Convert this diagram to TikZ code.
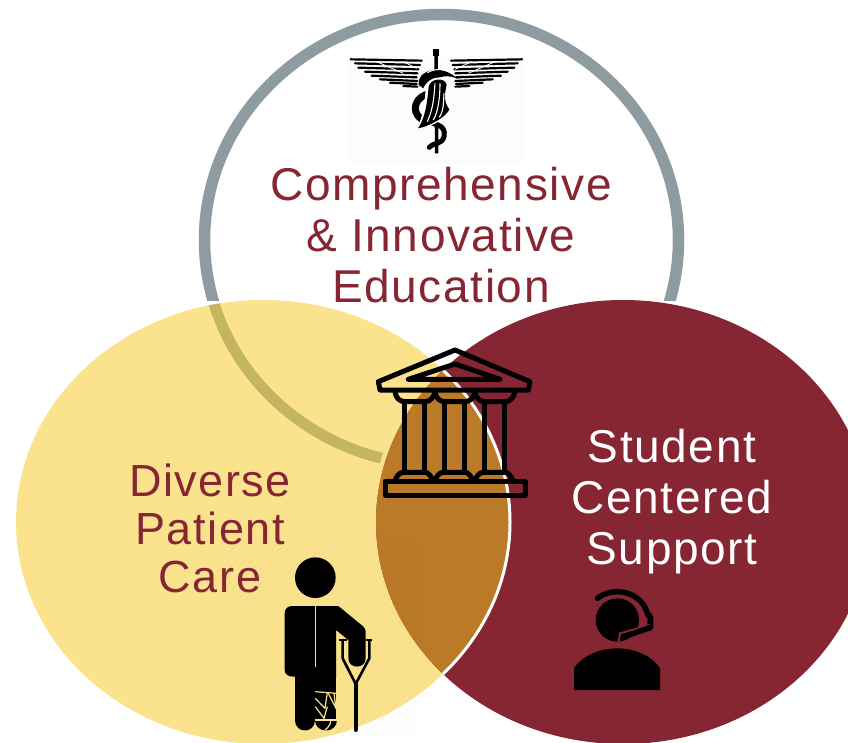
\documentclass[tikz,border=0pt]{standalone}
\usepackage{fontspec}
\setmainfont{Liberation Sans}
\newfontfamily\spacedfont[LetterSpace=3.5]{Liberation Sans}
\definecolor{fsumaroon}{HTML}{862633}
\definecolor{fsuyellow}{HTML}{FBE38E}
\definecolor{fsuorange}{HTML}{BB7A27}
\definecolor{fsugrey}{HTML}{8E9BA1}
\definecolor{fsuolive}{HTML}{C4B560}
\tikzset{
  bigtext/.style={align=center,inner sep=0pt,font=\fontsize{46}{51}\selectfont\spacedfont},
  midtext/.style={align=center,inner sep=0pt,font=\fontsize{45}{48}\selectfont\spacedfont},
  templeline/.style={draw=black,line width=5pt,line join=round,line cap=round},
  feather/.style={draw=black,line width=2.2pt,line cap=round}
}
\newcommand{\topring}{(441.5,240) ellipse [x radius=237,y radius=225.5]}
\newcommand{\yellowdisc}{(263,522) ellipse [x radius=247,y radius=222]}
\newcommand{\maroondisc}{(623,522) ellipse [x radius=247,y radius=222]}
\begin{document}
\begin{tikzpicture}[x=1pt,y=-1pt]
\useasboundingbox (0,0) rectangle (848,743);
\clip (0,0) rectangle (848,743);
\fill[white] (0,0) rectangle (848,743);
% background of engraved emblem
\fill[black!1] (348,55) rectangle (524,164);
% rings and discs
\begin{scope}
  \clip (0,0) rectangle (848,300);
  \draw[fsugrey,line width=11.5pt] \topring;
\end{scope}
\fill[fsuyellow] \yellowdisc;
\begin{scope}
  \clip \yellowdisc;
  \clip (0,0) -- (530,0) -- (382.7,454) -- (295,743) -- (0,743) -- cycle;
  \draw[fsuolive,line width=11pt] \topring;
\end{scope}
\fill[fsumaroon] \maroondisc;
\begin{scope}
  \clip \yellowdisc;
  \fill[fsuorange] \maroondisc;
\end{scope}
\begin{scope}
  \clip \maroondisc;
  \draw[white,line width=3pt] \yellowdisc;
\end{scope}
% faint hatch behind patient
\begin{scope}
  \clip (217,540) rectangle (420,740);
  \foreach \k in {0,8,...,416}
    \draw[black,opacity=.035,line width=1pt] (217+\k,740) -- (417+\k,540);
  \foreach \k in {8,16,...,200}
    \draw[black,opacity=.035,line width=1pt] (217-\k,740) -- (417-\k,540);
\end{scope}
% texts
\node[bigtext,text=fsumaroon] (education) at (441,235) {Comprehensive\\\& Innovative\\Education};
\node[midtext,text=fsumaroon] (care) at (210,528) {Diverse\\Patient\\Care};
\node[bigtext,text=white] (support) at (672,502) {Student\\Centered\\Support};
% caduceus
\begin{scope}[shift={(340,30)},scale=1/3]
  \foreach \a/\b/\c/\d in {32/88/245/92,45/100/240/105,55/113/235/118,75/125/232/130,95/137/230/142,120/148/232/153,150/158/230/162,190/168/232/170}{
    \draw[feather] (\a,\b) -- (\c,\d);
    \draw[feather] (578-\a,\b) -- (578-\c,\d);
  }
  \draw[white,line width=.8pt] (110,95) -- (190,130);
  \draw[white,line width=.8pt] (190,95) -- (230,115);
  \draw[white,line width=.8pt] (465,95) -- (385,130);
  \draw[white,line width=.8pt] (395,95) -- (345,118);
  \draw[black,line width=3.5pt] (288,75) -- (290,370);
  \fill[black] (278,58) rectangle (298,78);
  \draw[black,line width=7pt,line cap=round] (275,190) .. controls (225,195) and (210,245) .. (245,268);
  \draw[black,line width=5pt,line cap=round] (245,268) .. controls (280,285) and (320,280) .. (312,320) .. controls (305,345) and (285,335) .. (268,352);
  \fill[black] (236,165) .. controls (228,125) and (300,95) .. (355,148) .. controls (330,135) and (315,138) .. (300,142) .. controls (280,148) and (258,152) .. (250,175) -- cycle;
  \draw[white,line width=1pt] (262,128) .. controls (285,115) and (315,115) .. (335,130);
  \fill[white] (258,168) .. controls (262,140) and (320,130) .. (326,165) .. controls (320,190) and (316,215) .. (332,238) .. controls (325,262) and (265,298) .. (226,300) .. controls (245,275) and (252,240) .. (258,168) -- cycle;
  \fill[black] (266,170) .. controls (270,145) and (316,140) .. (320,165) .. controls (314,190) and (310,215) .. (328,238) .. controls (322,258) and (268,290) .. (234,295) .. controls (250,272) and (260,240) .. (266,170) -- cycle;
  \draw[white,line width=1.1pt] (285,160) .. controls (282,200) and (280,235) .. (262,275);
  \draw[white,line width=1.1pt] (300,160) .. controls (300,200) and (295,245) .. (280,270);
  \draw[white,line width=1.1pt] (312,190) .. controls (310,220) and (312,240) .. (298,262);
\end{scope}
% temple
\begin{scope}[shift={(360,340)},scale=1/3]
  \draw[templeline] (285,30) -- (510,125) -- (505,150) -- (60,150) -- (55,125) -- cycle;
  \draw[templeline] (285,72) -- (420,118) -- (145,118) -- cycle;
  \foreach \d in {0,120,240}{
    \draw[templeline] (105+\d,155) .. controls (107+\d,175) and (120+\d,185) .. (135+\d,185) -- (195+\d,185) .. controls (210+\d,185) and (222+\d,172) .. (225+\d,155);
    \draw[templeline] (133+\d,185) -- (133+\d,397);
    \draw[templeline] (192+\d,185) -- (192+\d,397);
    \draw[templeline] (105+\d,425) .. controls (107+\d,410) and (118+\d,397) .. (130+\d,397) -- (195+\d,397) .. controls (205+\d,397) and (215+\d,410) .. (220+\d,425);
  }
  \draw[templeline] (75,425) rectangle (495,465);
\end{scope}
% patient
\begin{scope}[shift={(210,530)},scale=1/3]
  \fill[black] (316,143) circle [radius=61];
  % torso and arm
  \fill[black] (224,420) -- (224,250) .. controls (224,236) and (234,228) .. (246,228) -- (385,228) -- (458,288) .. controls (464,293) and (467,298) .. (467,306) -- (467,385) .. controls (467,418) and (415,418) .. (415,385) -- (415,330) -- (378,300) -- (378,440) -- (250,440) .. controls (234,440) and (224,432) .. (224,420) -- cycle;
  % legs
  \fill[black] (255,430) rectangle (378,575);
  \fill[black] (255,570) .. controls (255,612) and (316,612) .. (316,570) -- cycle;
  \fill[black] (316,570) .. controls (316,612) and (380,612) .. (380,570) -- cycle;
  \draw[fsuyellow,line width=1.3pt] (316,228) -- (316,410);
  % cast
  \draw[fsuyellow,line width=1.2pt] (316,485) -- (380,490);
  \draw[fsuyellow,line width=1.2pt] (316,505) -- (345,535) -- (352,488);
  \draw[fsuyellow,line width=1.2pt] (355,490) -- (378,535) -- (372,490);
  \draw[fsuyellow,line width=1.2pt] (316,530) -- (342,565) -- (352,530);
  \draw[fsuyellow,line width=1.2pt] (316,570) -- (380,570);
  \draw[fsuyellow,line width=1.2pt] (345,600) .. controls (358,590) and (362,580) .. (362,572);
  % crutch
  \draw[black,line width=2pt] (388,330) -- (410,330);
  \draw[black,line width=2pt] (468,330) -- (485,330);
  \draw[black,line width=2.6pt,line join=round] (398,330) -- (398,385) -- (437,462) -- (478,385) -- (478,330);
  \draw[black,line width=4pt,line cap=round] (437,462) -- (437,600);
\end{scope}
% headset agent
\begin{scope}[shift={(560,580)},scale=1/3]
  \fill[black] (172,120) circle [radius=65];
  \fill[black] (42,330) -- (42,265) .. controls (60,235) and (110,205) .. (172,205) .. controls (232,205) and (282,235) .. (300,265) -- (300,330) -- cycle;
  \draw[black,line width=5.5pt,line cap=round] (112,55) arc [start angle=230,end angle=350,x radius=93,y radius=85];
  \fill[black,rounded corners=5pt] (262,98) rectangle (280,152);
  \draw[fsumaroon,line width=2pt] (175,190) -- (180,160) -- (270,135);
  \draw[black,line width=5.5pt,line cap=round] (198,168) -- (272,142);
\end{scope}
\end{tikzpicture}
\end{document}
